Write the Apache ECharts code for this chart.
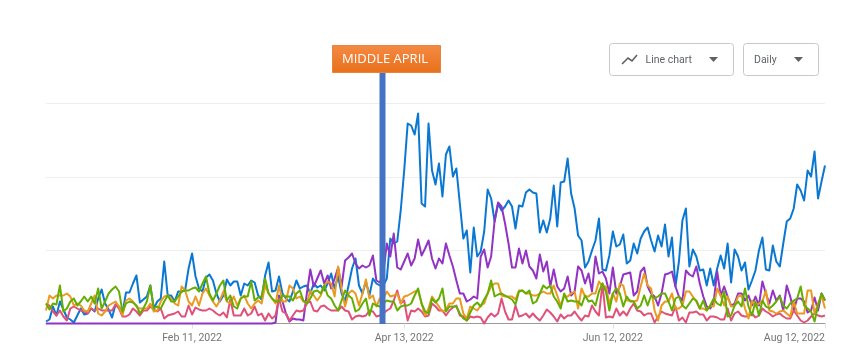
<!DOCTYPE html>
<html><head><meta charset="utf-8">
<style>html,body{margin:0;padding:0;background:#fff}#c{width:861px;height:359px}</style>
<script src="https://cdn.jsdelivr.net/npm/echarts@6/dist/echarts.min.js"></script>
</head><body><div id="c"></div>
<script>
const tickLabels = ['Feb 11, 2022','Apr 13, 2022','Jun 12, 2022','Aug 12, 2022'];
const blueValues = [
2,4,17,8,22,14,6,4,1,8,15,9,10,15,12,25,34,20,14,6,19,17,10,31,31,40,48,21,24,
27,38,15,22,25,62,28,28,22,32,32,33,55,70,47,35,32,46,49,43,30,22,28,44,38,42,42,28,
40,38,43,41,28,24,48,61,32,33,47,30,25,22,32,43,35,37,38,30,40,36,38,33,40,50,
35,47,30,22,38,55,65,38,30,42,28,45,40,38,38,
45,85,80,82,113,153,200,198,189,210,120,117,200,153,139,160,127,169,177,147,155,120,85,93,51,
96,67,72,92,134,125,102,120,113,117,123,117,95,118,117,131,134,131,130,91,103,91,105,138,97,
141,142,165,130,115,88,83,56,62,73,83,105,54,53,68,92,77,79,89,60,63,80,70,85,92,96,83,72,88,77,
99,67,86,37,62,103,115,57,74,67,53,54,38,55,38,55,68,55,80,41,74,67,53,61,34,43,53,73,86,54,53,
78,62,57,80,102,105,115,139,133,123,153,147,172,125,142,158];
const purpleValues = [
0,0,0,0,0,0,0,0,0,0,0,0,0,0,0,0,0,0,0,0,0,0,0,0,0,0,0,0,0,0,0,0,0,
0,0,0,0,0,0,0,0,0,0,0,0,0,0,0,0,0,0,0,0,0,0,0,0,0,0,0,0,0,0,0,0,0,
1,28,22,10,2,5,4,4,3,30,54,37,45,53,40,48,35,45,56,37,63,66,70,60,55,58,56,58,68,43,41,50,
80,67,90,56,54,62,70,58,65,84,68,75,83,65,55,65,60,80,68,57,43,30,30,22,24,27,25,
67,74,56,67,103,121,117,100,80,56,56,75,60,73,57,53,45,69,52,62,37,54,37,
32,35,47,28,32,57,53,40,50,32,67,50,52,45,30,56,30,37,49,50,51,28,32,52,56,37,30,27,18,30,
49,50,52,37,27,23,53,49,47,57,40,27,17,15,22,52,28,37,27,18,20,30,30,23,28,18,27,18,42,30,
20,33,23,28,13,38,27,13,25,25,22,11,13,26,13,30,23];
const pinkValues = [
20,18,12,8,13,7,3,15,17,15,13,12,10,15,13,15,13,13,13,13,19,15,7,7,9,15,12,8,13,
13,17,14,12,15,5,8,9,10,12,7,7,18,9,16,14,13,13,15,13,10,8,11,6,24,8,
8,8,15,8,10,17,8,10,3,10,5,8,
25,12,10,3,8,13,12,13,20,22,13,12,17,18,15,13,13,13,17,13,12,4,7,8,7,8,13,12,7,8,10,
13,15,23,33,20,23,3,13,12,15,12,7,8,20,17,13,13,8,13,16,18,8,7,3,7,6,7,6,0,6,10,7,10,25,12,4,4,18,7,8,
10,6,10,6,3,8,14,11,7,2,
9,5,8,8,12,7,3,8,7,18,12,8,40,6,7,6,15,8,12,8,15,20,13,12,8,10,10,1,7,12,
10,9,8,17,3,6,1,11,11,12,9,9,3,7,7,6,4,4,15,3,10,12,8,7,7,10,6,8,15,12,
10,7,9,10,7,5,5,13,8,3,1,3,7,10,8,7,8];
const orangeValues = [
13,28,25,28,28,28,30,27,18,20,18,13,12,20,28,10,8,12,18,20,22,17,8,23,25,22,17,15,15,
15,20,12,13,22,27,28,25,20,18,37,33,22,18,27,18,30,35,28,22,17,23,32,22,20,27,
18,25,28,20,15,20,23,20,38,30,25,20,38,22,22,38,35,25,27,22,20,33,28,23,28,38,42,40,27,
57,35,17,30,33,30,18,30,44,25,28,17,25,25,32,27,28,30,20,27,28,30,32,33,20,8,15,27,22,17,12,14,20,20,25,25,
10,5,17,15,13,18,20,30,37,40,40,28,27,27,27,24,33,33,30,30,28,28,30,32,30,30,38,28,
18,27,27,30,32,15,35,27,27,30,30,42,37,37,20,30,22,40,38,23,23,22,23,37,50,38,35,13,3,18,
22,22,30,15,15,18,32,32,27,22,15,15,13,18,17,35,28,18,27,17,18,27,28,15,5,23,17,20,22,33,
13,12,10,12,13,10,7,22,10,10,10,33,33,10,20,28,15];
const greenValues = [
20,14,20,19,38,12,15,22,25,18,22,27,22,27,20,35,15,22,30,34,37,32,12,20,22,21,18,10,15,22,
38,15,17,15,22,28,22,22,27,32,33,33,35,36,32,40,47,30,23,30,38,43,23,28,17,15,25,27,27,42,
23,26,27,45,30,25,22,22,28,27,
27,23,30,33,23,20,25,32,33,30,38,28,25,18,
13,23,33,28,25,12,14,20,25,8,20,18,17,20,23,22,22,13,17,18,18,20,28,35,20,12,10,25,21,25,35,
12,17,17,17,10,5,3,11,18,21,17,24,30,43,27,29,30,28,26,24,19,32,33,30,33,20,22,30,38,35,38,27,22,
15,30,22,23,22,22,18,28,22,23,18,32,40,32,13,30,35,30,17,27,22,22,15,18,28,18,28,25,27,30,
30,22,13,25,27,18,15,20,25,23,15,23,13,18,25,20,18,32,7,8,18,22,17,35,17,8,22,8,23,17,
15,18,22,27,18,15,20,23,25,37,18,15,12,2,18,30,23];
const seriesColors = ['#0a78d2','#9333c4','#e0517a','#ea9a1f','#64ae02'];
const annotationText = 'MIDDLE APRIL';
const chartTypeText = 'Line chart';
const periodText = 'Daily';

const categories = [];
for (let i = 0; i < blueValues.length; i++) {
  categories.push(new Date(Date.UTC(2021, 11, 31 + i)).toLocaleDateString('en-US', {month:'short', day:'numeric', year:'numeric', timeZone:'UTC'}));
}
const isTick = (i, v) => tickLabels.includes(v);
const mk = (data, idx) => ({type:'line', data, symbol:'none', smooth:false, animation:false, z:2+idx,
  clip:false, lineStyle:{color:seriesColors[idx], width:2, join:'round'}, itemStyle:{color:seriesColors[idx]}});
const box = (x,y,w,h) => ({type:'rect', shape:{x:x+.5,y:y+.5,width:w,height:h,r:3}, style:{fill:'#fff',stroke:'#c9c9c9',lineWidth:1}, z:20});
const tri = (x,y) => ({type:'polygon', shape:{points:[[x,y],[x+9,y],[x+4.5,y+5]]}, style:{fill:'#616161'}, z:21});
const lbl = (x,y,t) => ({type:'text', x, y, style:{text:t, fill:'#5f6368', font:'10.5px Roboto', textVerticalAlign:'middle'}, z:21});
const chart = echarts.init(document.getElementById('c'), null, {renderer:'canvas'});
chart.setOption({
  animation:false,
  backgroundColor:'#fff',
  grid:{left:46, right:36, top:103.5, bottom:35.5, containLabel:false},
  xAxis:{type:'category', data:categories, boundaryGap:false,
    axisLine:{lineStyle:{color:'#9a9a9a',width:1}},
    axisTick:{interval:isTick, length:5, lineStyle:{color:'#e0e0e0'}},
    axisLabel:{interval:isTick, color:'#757575', fontSize:10.5, fontFamily:'Roboto', margin:9, alignMaxLabel:'right', showMaxLabel:true},
    splitLine:{show:false}},
  yAxis:{type:'value', min:0, max:220, interval:220/3,
    axisLine:{show:false}, axisTick:{show:false}, axisLabel:{show:false},
    splitLine:{lineStyle:{color:'#eeeeee',width:1}}},
  series:[mk(blueValues,0),mk(purpleValues,1),mk(pinkValues,2),mk(orangeValues,3),mk(greenValues,4)],
  graphic:[
    {type:'rect', shape:{x:379.5,y:72,width:6,height:252}, style:{fill:'#4472c4'}, z:30},
    {type:'rect', shape:{x:332.5,y:45.5,width:108,height:27},
      style:{stroke:'#e8833a',lineWidth:1,fill:new echarts.graphic.LinearGradient(0,0,0,1,[{offset:0,color:'#f58a45'},{offset:1,color:'#e8701a'}])}, z:31},
    {type:'text', x:342, y:59.5, style:{text:annotationText, fill:'#fff', font:'13px "Open Sans"', textVerticalAlign:'middle'}, z:32},
    box(609,43,124,32), box(743,43,75,32),
    {type:'polyline', shape:{points:[[622,64],[628,58],[632,61],[637,55]]}, style:{stroke:'#616161',lineWidth:1.6,fill:'none'}, z:21},
    lbl(645.5,60,chartTypeText), tri(709,57),
    lbl(754,60,periodText), tri(794,57)
  ]
});
</script></body></html>
